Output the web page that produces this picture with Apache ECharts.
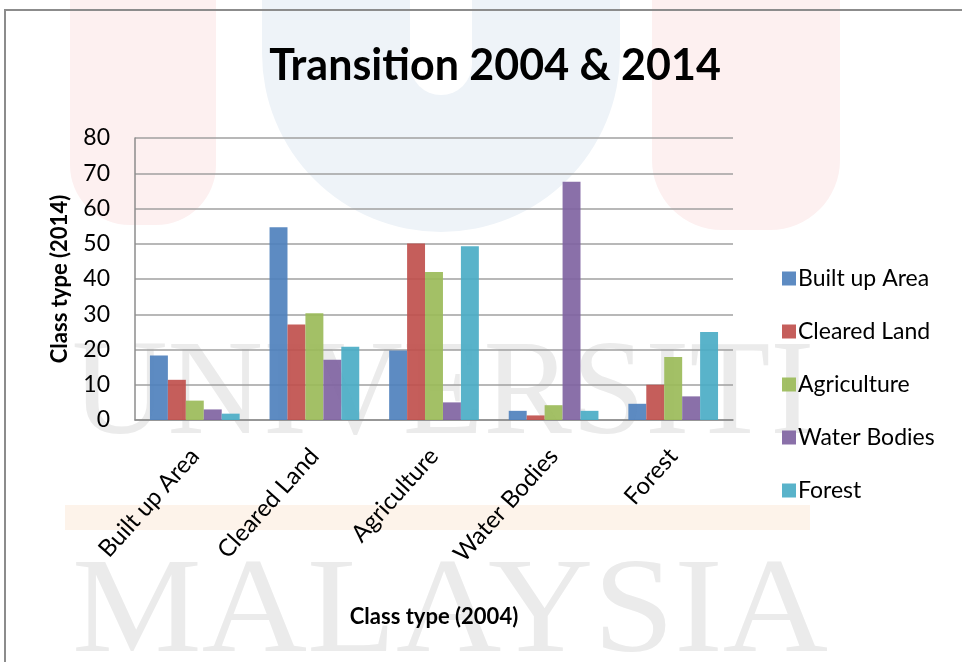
<!DOCTYPE html>
<html>
<head>
<meta charset="utf-8">
<script src="https://cdn.jsdelivr.net/npm/echarts@6/dist/echarts.min.js"></script>
<style>
  html, body { margin: 0; padding: 0; background: #fff; }
  #chart { width: 962px; height: 662px; }
</style>
</head>
<body>
<div id="chart"></div>
<script>
// 类别 (2004)
const categories = ['Built up Area', 'Cleared Land', 'Agriculture', 'Water Bodies', 'Forest']
// 各系列数值 (2014)
const builtUp = [18.3, 54.7, 19.7, 2.6, 4.6]
const clearedLand = [11.4, 27.1, 50.1, 1.3, 10.0]
const agriculture = [5.5, 30.3, 42.0, 4.2, 17.9]
const waterBodies = [3.0, 17.1, 5.0, 67.6, 6.7]
const forest = [1.8, 20.8, 49.3, 2.6, 25.0]
const yTicks = [0, 10, 20, 30, 40, 50, 60, 70, 80]

const font = 'Lato, "Open Sans", sans-serif'
const colors = ['#4F81BD', '#C0504D', '#9BBB59', '#8064A2', '#4BACC6']

const chart = echarts.init(document.getElementById('chart'))

const seriesList = [
  ['Built up Area', builtUp],
  ['Cleared Land', clearedLand],
  ['Agriculture', agriculture],
  ['Water Bodies', waterBodies],
  ['Forest', forest]
].map(([name, data], i) => ({
  name,
  type: 'bar',
  data,
  barGap: 0,
  barCategoryGap: '25%',
  itemStyle: { color: colors[i], opacity: 0.92 }
}))

const option = {
  animation: false,
  color: colors,
  // 背景水印
  graphic: [
    { type: 'rect', z: -10, silent: true, shape: { x: 70, y: -40, width: 146, height: 265, r: [0, 0, 60, 60] }, style: { fill: '#fdf0f0' } },
    { type: 'rect', z: -10, silent: true, shape: { x: 652, y: -40, width: 188, height: 270, r: [0, 0, 70, 70] }, style: { fill: '#fdf0f0' } },
    { type: 'rect', z: -10, silent: true, shape: { x: 262, y: -50, width: 358, height: 282, r: [0, 0, 179, 179] }, style: { fill: '#eef3f8' } },
    { type: 'rect', z: -9, silent: true, shape: { x: 410, y: -20, width: 62, height: 115, r: [0, 0, 31, 31] }, style: { fill: '#ffffff' } },
    { type: 'rect', z: -10, silent: true, shape: { x: 65, y: 505, width: 745, height: 25 }, style: { fill: '#fdf3ea' } },
    { type: 'text', z: -10, silent: true, x: 72, y: 330, scaleX: 0.98, style: { text: 'UNIVERSITI', font: '135px "Liberation Serif", serif', fill: '#ebebeb' } },
    { type: 'text', z: -10, silent: true, x: 72, y: 548, scaleX: 1.08, style: { text: 'MALAYSIA', font: '135px "Liberation Serif", serif', fill: '#ebebeb' } },
    { type: 'rect', z: -5, silent: true, shape: { x: 5, y: 10, width: 1000, height: 700 }, style: { fill: 'none', stroke: '#8c8c8c', lineWidth: 2 } }
  ],
  title: {
    text: 'Transition 2004 & 2014',
    left: 490,
    textAlign: 'center',
    top: 40,
    textStyle: { fontFamily: font, fontSize: 43, fontWeight: 'bold', color: '#000' }
  },
  legend: {
    orient: 'vertical',
    left: 777,
    top: 262,
    itemGap: 30,
    itemWidth: 14,
    itemHeight: 14,
    icon: 'rect',
    textStyle: { fontFamily: font, fontSize: 23, color: '#000', padding: [0, 0, 0, -3] },
    data: categories
  },
  grid: { left: 135, right: 229, top: 138, bottom: 242 },
  xAxis: {
    type: 'category',
    data: categories,
    name: 'Class type (2004)',
    nameLocation: 'middle',
    nameGap: 186,
    nameTextStyle: { fontFamily: font, fontSize: 22, fontWeight: 'bold', color: '#000' },
    axisLine: { lineStyle: { color: '#8c8c8c', width: 1.5 } },
    axisTick: { show: false },
    axisLabel: { rotate: 48, margin: 32, fontFamily: font, fontSize: 24, color: '#000' }
  },
  yAxis: {
    type: 'value',
    min: yTicks[0],
    max: yTicks[yTicks.length - 1],
    interval: yTicks[1] - yTicks[0],
    name: 'Class type (2014)',
    nameLocation: 'middle',
    nameGap: 64,
    nameTextStyle: { fontFamily: font, fontSize: 22, fontWeight: 'bold', color: '#000' },
    axisLine: { show: true, lineStyle: { color: '#8c8c8c', width: 1.5 } },
    axisTick: { show: false },
    axisLabel: { margin: 25, fontFamily: font, fontSize: 23, color: '#000' },
    splitLine: { lineStyle: { color: '#a0a0a0', width: 1.5 } }
  },
  series: seriesList
}

chart.setOption(option)
</script>
</body>
</html>
